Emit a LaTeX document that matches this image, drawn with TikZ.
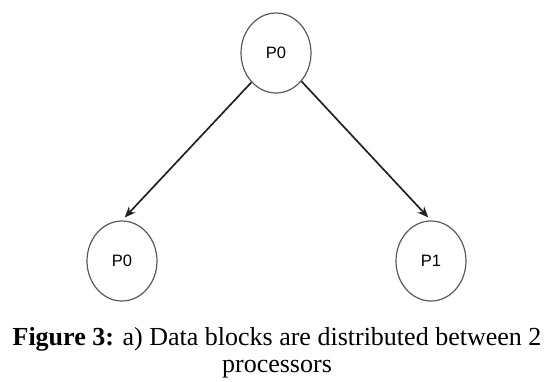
\documentclass[tikz,border=0pt]{standalone}
\usepackage{fontspec}
\setmainfont{Liberation Serif}
\setsansfont{Liberation Sans}
\usetikzlibrary{arrows,arrows.meta,shapes,positioning}
\definecolor{edgegray}{HTML}{222222}
\definecolor{ringgray}{HTML}{5A5A5A}
\tikzset{
>={Stealth[length=11pt,width=9pt]},
  procnode/.style={
    ellipse,
    draw=ringgray, line width=1.2pt,
    minimum width=70pt,
    minimum height=80pt,
    inner sep=0pt,
    font=\sffamily\fontsize{16.5}{18}\selectfont},
  line/.style={draw=edgegray, line width=1.7pt, ->, shorten >=4pt},
}
\begin{document}
\begin{tikzpicture}
[
x=1pt, y=-1pt,
captext/.style={align=center, inner sep=0pt, font=\fontsize{26}{27}\selectfont},
]
\useasboundingbox (0,0) rectangle (552,381);

%Nodes
\node[procnode]      (root)      at (276,53)  {P0};
\node[procnode]      (leftproc)  at (122,261) {P0};
\node[procnode]      (rightproc) at (431,261) {P1};
\node[captext, anchor=north] (caption) at (277,327)
  {\textbf{Figure 3:} a) Data blocks are distributed between 2\\ processors};

%Lines
\path[line] (root.230) -- (leftproc.north);
\path[line] (root.-48) -- (rightproc.north);

\end{tikzpicture}
\end{document}
